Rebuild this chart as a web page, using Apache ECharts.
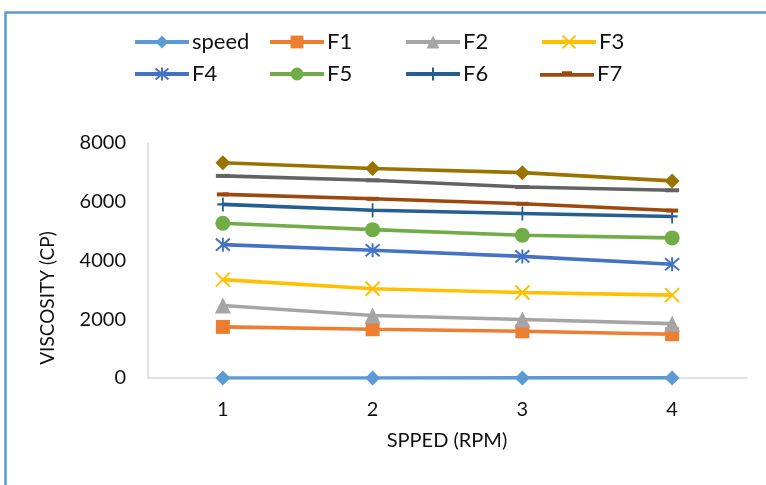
<!DOCTYPE html>
<html>
<head>
<meta charset="utf-8">
<script src="https://cdn.jsdelivr.net/npm/echarts@6/dist/echarts.min.js"></script>
<style>
html,body{margin:0;padding:0;background:#fff;}
#chart{width:766px;height:485px;}
</style>
</head>
<body>
<div id="chart"></div>
<script>
// Rotational speed steps (x axis)
const categories = ['1', '2', '3', '4'];
const yTicks = [0, 2000, 4000, 6000, 8000];

// Viscosity (cP) of each formulation at each speed step
const speed = [1, 2, 3, 4];
const F1 = [1740, 1660, 1590, 1490];
const F2 = [2470, 2130, 1990, 1850];
const F3 = [3350, 3040, 2910, 2820];
const F4 = [4540, 4350, 4140, 3870];
const F5 = [5270, 5050, 4860, 4770];
const F6 = [5910, 5710, 5600, 5500];
const F7 = [6250, 6100, 5930, 5700];
const F8 = [6880, 6730, 6500, 6390];
const F9 = [7330, 7130, 6990, 6710];

const FONT = 'Lato, "Liberation Sans", sans-serif';

const P_X = 'path://M0,0L10,10M10,0L0,10';
const P_STAR = 'path://M5,0L5,10M0.7,0.7L9.3,9.3M9.3,0.7L0.7,9.3';
const P_PLUS = 'path://M5,0L5,10M0,5L10,5';
const P_DASH_LEGEND = 'path://M0,6.6L22,6.6L22,5L32,5L32,6.6L54,6.6L54,10.4L0,10.4Z';

function ser(name, data, color, symbol, size, stroke) {
  const s = {
    name, type: 'line', data,
    symbol, symbolSize: size,
    lineStyle: { color, width: 3.6 },
    itemStyle: { color },
    z: 2
  };
  if (stroke) {
    s.itemStyle = { color: 'none', borderColor: color, borderWidth: 2 };
  }
  return s;
}

const series = [
  ser('speed', speed, '#5B9BD5', 'diamond', 15),
  ser('F1', F1, '#ED7D31', 'rect', 14),
  ser('F2', F2, '#A5A5A5', 'triangle', 16),
  ser('F3', F3, '#FFC000', P_X, 14, true),
  ser('F4', F4, '#4472C4', P_STAR, 14, true),
  ser('F5', F5, '#70AD47', 'circle', 15),
  ser('F6', F6, '#255E91', P_PLUS, [11, 14], true),
  ser('F7', F7, '#9E480E', 'rect', [12, 4]),
  ser('F8', F8, '#636363', 'rect', [14, 4]),
  ser('F9', F9, '#997300', 'diamond', 15)
];

const legendNames = ['speed', 'F1', 'F2', 'F3', 'F4', 'F5', 'F6', 'F7'];
const colX = [133, 268, 404, 540];
const rowY = [31, 63];
const legends = legendNames.map((n, i) => ({
  data: [n === 'F7' ? { name: n, icon: P_DASH_LEGEND } : n],
  left: colX[i % 4],
  top: rowY[Math.floor(i / 4)],
  padding: 0,
  itemWidth: 54,
  itemHeight: 16,
  itemGap: 0,
  selectedMode: false,
  lineStyle: { width: 4 },
  textStyle: { fontFamily: FONT, fontSize: 22, color: '#111', padding: [0, 0, 0, -2] }
}));

const chart = echarts.init(document.getElementById('chart'));
chart.setOption({
  animation: false,
  backgroundColor: '#fff',
  legend: legends,
  grid: { left: 148, right: 19, top: 143, bottom: 107 },
  xAxis: {
    type: 'category',
    data: categories,
    boundaryGap: true,
    axisLine: { lineStyle: { color: '#d9d9d9', width: 1.5 } },
    axisTick: { show: false },
    axisLabel: { fontFamily: FONT, fontSize: 20, color: '#111', margin: 22 }
  },
  yAxis: {
    type: 'value',
    min: yTicks[0], max: yTicks[yTicks.length - 1], interval: 2000,
    axisLine: { show: true, lineStyle: { color: '#d9d9d9', width: 1.5 } },
    axisTick: { show: false },
    splitLine: { show: false },
    axisLabel: { fontFamily: FONT, fontSize: 20, color: '#111', margin: 22, formatter: v => String(v) }
  },
  graphic: [
    {
      type: 'rect', silent: true, z: -1,
      shape: { x: 5.5, y: 12.5, width: 800, height: 500 },
      style: { fill: 'none', stroke: '#5B9BD5', lineWidth: 2.5 }
    },
    {
      type: 'text', x: 48, y: 298, rotation: Math.PI / 2,
      style: { text: 'VISCOSITY (CP)', font: '19px ' + FONT, fill: '#111', align: 'center', verticalAlign: 'middle' }
    },
    {
      type: 'text', x: 447, y: 441,
      style: { text: 'SPPED (RPM)', font: '20px ' + FONT, fill: '#111', align: 'center', verticalAlign: 'middle' }
    }
  ],
  series
});
</script>
</body>
</html>
